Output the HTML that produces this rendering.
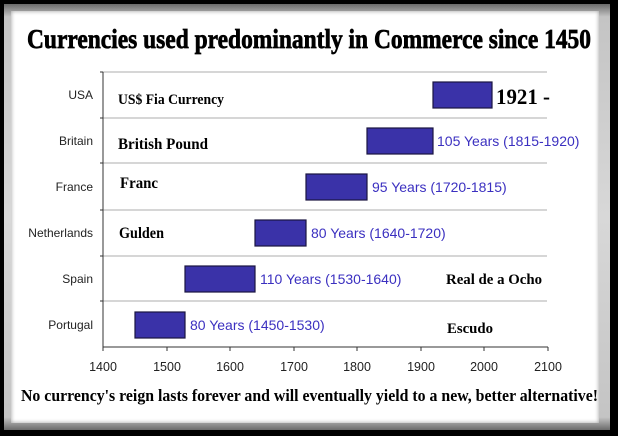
<!DOCTYPE html>
<html><head><style>
html,body{margin:0;padding:0;background:#000;}
.f{position:absolute;left:0;top:0;width:618px;height:436px;}
</style></head><body>
<div class="f" style="background:#000"></div>
<div class="f" style="left:4px;top:4px;width:606px;height:426px;background:linear-gradient(#6a6a6a,#c4c4c4 3%,#d8d8d8 50%,#c4c4c4 97%,#6a6a6a);"></div>
<div class="f" style="left:11px;top:11px;width:588px;height:412px;background:#fff;box-shadow:inset 0 0 4px #999;"></div>
<svg class="f" width="618" height="436" viewBox="0 0 618 436" xmlns="http://www.w3.org/2000/svg">
<text x="27" y="48" font-family="Liberation Serif" font-weight="bold" font-size="27" stroke="#000" stroke-width="0.7" textLength="564" lengthAdjust="spacingAndGlyphs" fill="#000">Currencies used predominantly in Commerce since 1450</text>
<g stroke="#c8c8c8" stroke-width="1.5">
<line x1="103" y1="72" x2="547" y2="72"/><line x1="103" y1="118" x2="547" y2="118"/>
<line x1="103" y1="163" x2="547" y2="163"/><line x1="103" y1="210" x2="547" y2="210"/>
<line x1="103" y1="256" x2="547" y2="256"/><line x1="103" y1="301" x2="547" y2="301"/>
</g>
<g stroke="#333" stroke-width="1">
<line x1="103" y1="72" x2="103" y2="347"/><line x1="103" y1="347" x2="548" y2="347"/>
<line x1="100" y1="72" x2="103" y2="72"/><line x1="100" y1="118" x2="103" y2="118"/><line x1="100" y1="163" x2="103" y2="163"/><line x1="100" y1="210" x2="103" y2="210"/><line x1="100" y1="256" x2="103" y2="256"/><line x1="100" y1="301" x2="103" y2="301"/>
<line x1="103" y1="347" x2="103" y2="351"/><line x1="167" y1="347" x2="167" y2="351"/><line x1="230" y1="347" x2="230" y2="351"/><line x1="294" y1="347" x2="294" y2="351"/><line x1="357" y1="347" x2="357" y2="351"/><line x1="421" y1="347" x2="421" y2="351"/><line x1="484" y1="347" x2="484" y2="351"/><line x1="548" y1="347" x2="548" y2="351"/>
</g>
<g font-family="Liberation Sans" font-size="12" fill="#222" text-anchor="end">
<text x="93" y="99">USA</text><text x="93" y="145">Britain</text><text x="93" y="191">France</text><text x="93" y="237">Netherlands</text><text x="93" y="283">Spain</text><text x="93" y="329">Portugal</text>
</g>
<g font-family="Liberation Sans" font-size="12.5" fill="#222" text-anchor="middle">
<text x="103" y="371">1400</text><text x="167" y="371">1500</text><text x="230" y="371">1600</text><text x="294" y="371">1700</text><text x="357" y="371">1800</text><text x="421" y="371">1900</text><text x="484" y="371">2000</text><text x="548" y="371">2100</text>
</g>
<g fill="#3a32a8" stroke="#1a1540" stroke-width="1.2">
<rect x="433" y="82" width="59" height="26"/>
<rect x="367" y="128" width="66" height="26"/>
<rect x="306" y="174" width="61" height="26"/>
<rect x="255" y="220" width="51" height="26"/>
<rect x="185" y="266" width="70" height="26"/>
<rect x="135" y="312" width="50" height="26"/>
</g>
<g font-family="Liberation Sans" font-size="14" fill="#3b30c0">
<text x="437" y="146">105 Years (1815-1920)</text>
<text x="372" y="192">95 Years (1720-1815)</text>
<text x="311" y="238">80 Years (1640-1720)</text>
<text x="260" y="284">110 Years (1530-1640)</text>
<text x="190" y="330">80 Years (1450-1530)</text>
</g>
<g font-family="Liberation Serif" font-weight="bold" fill="#000">
<text x="118" y="104" font-size="15" textLength="106" lengthAdjust="spacingAndGlyphs">US$ Fia Currency</text>
<text x="496" y="104" font-size="22" textLength="54" lengthAdjust="spacingAndGlyphs">1921 -</text>
<text x="118" y="149" font-size="16" textLength="90" lengthAdjust="spacingAndGlyphs">British Pound</text>
<text x="120" y="188" font-size="16" textLength="38" lengthAdjust="spacingAndGlyphs">Franc</text>
<text x="119" y="238" font-size="16" textLength="45" lengthAdjust="spacingAndGlyphs">Gulden</text>
<text x="446" y="284" font-size="15" textLength="96" lengthAdjust="spacingAndGlyphs">Real de a Ocho</text>
<text x="447" y="333" font-size="15" textLength="46" lengthAdjust="spacingAndGlyphs">Escudo</text>
<text x="21" y="401" font-size="17" textLength="577" lengthAdjust="spacingAndGlyphs">No currency's reign lasts forever and will eventually yield to a new, better alternative!</text>
</g>
</svg>
</body></html>
